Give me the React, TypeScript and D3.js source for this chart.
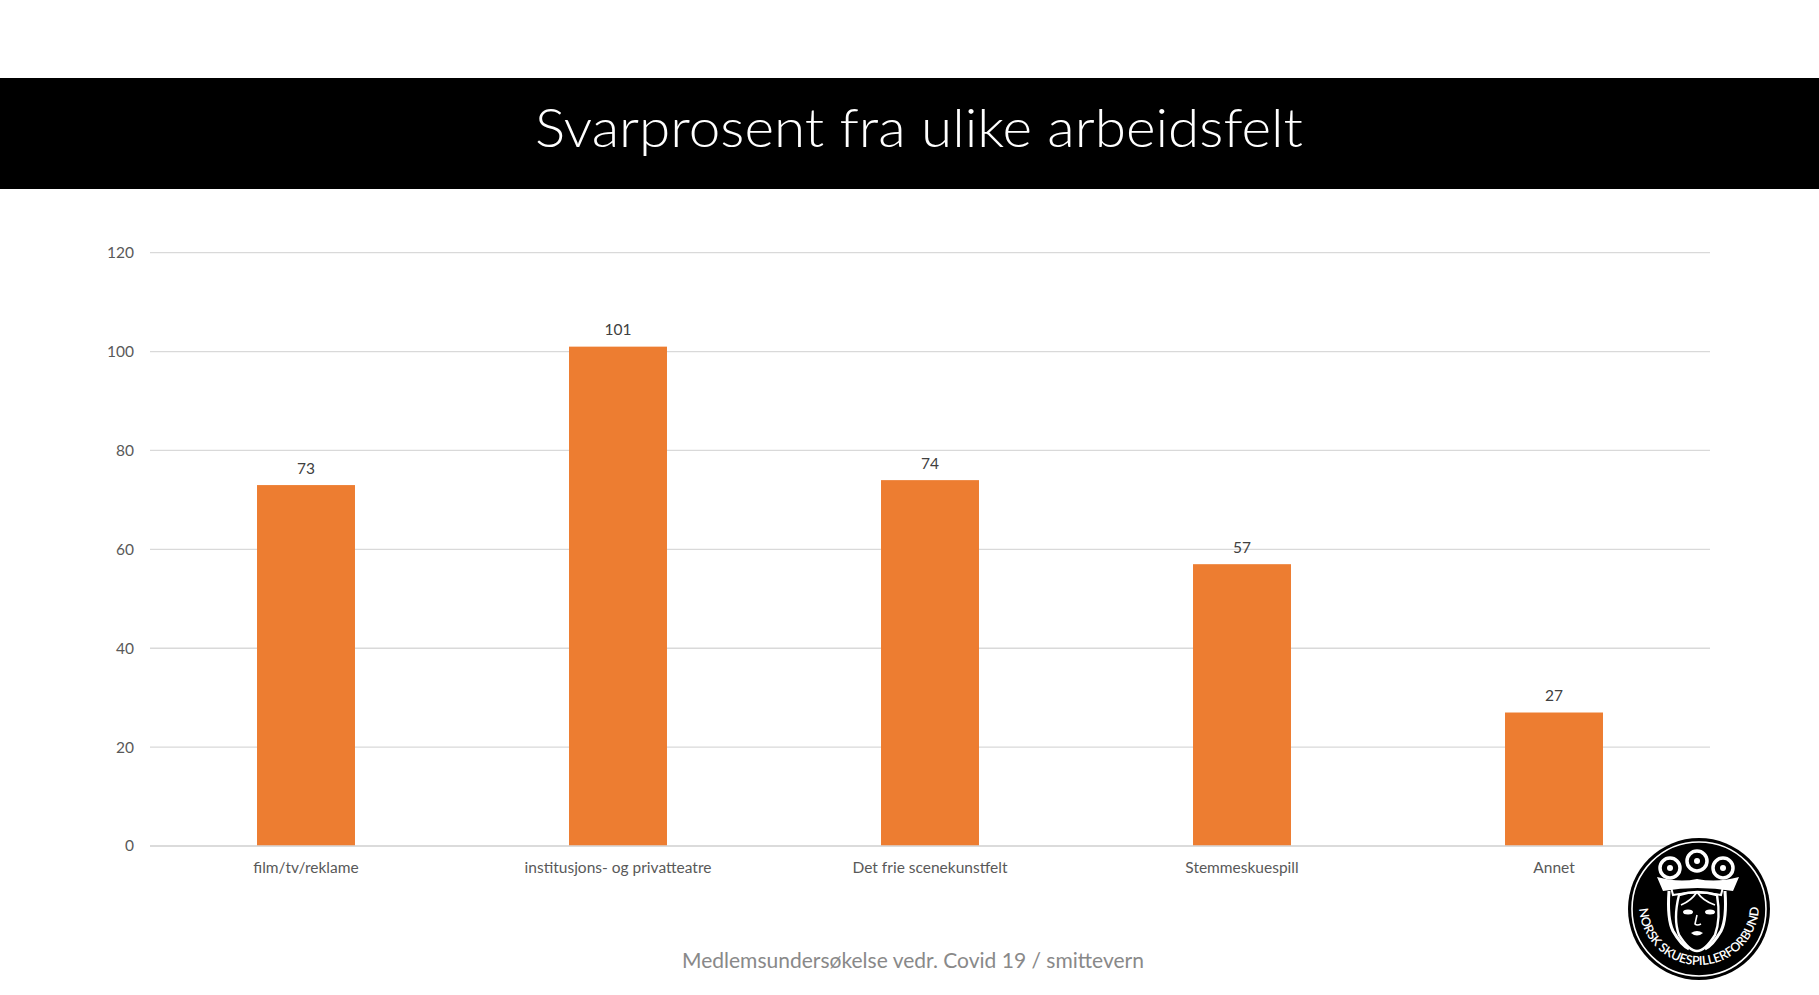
import { useRef, useEffect } from 'react';
import * as d3 from 'd3';

const categories = [
  'film/tv/reklame',
  'institusjons- og privatteatre',
  'Det frie scenekunstfelt',
  'Stemmeskuespill',
  'Annet',
];
const responses = [73, 101, 74, 57, 27];
const yTicks = [0, 20, 40, 60, 80, 100, 120];

const WIDTH = 1819;
const HEIGHT = 995;
const ORANGE = '#ED7D31';
const FONT = 'Lato, "Open Sans", sans-serif';

export default function App() {
  const svgRef = useRef<SVGSVGElement>(null);

  useEffect(() => {
    if (!svgRef.current) return;
    const svg = d3.select(svgRef.current);
    svg.selectAll('*').remove();

    svg.append('rect').attr('width', WIDTH).attr('height', HEIGHT).attr('fill', '#fff');

    // Title band
    svg.append('rect')
      .attr('x', 0).attr('y', 78)
      .attr('width', WIDTH).attr('height', 111)
      .attr('fill', '#000');

    svg.append('text')
      .attr('x', 919).attr('y', 147)
      .attr('text-anchor', 'middle')
      .attr('font-family', FONT)
      .attr('font-weight', 300)
      .attr('font-size', 54)
      .attr('textLength', 768)
      .attr('lengthAdjust', 'spacingAndGlyphs')
      .attr('fill', '#fff')
      .text('Svarprosent fra ulike arbeidsfelt');

    const x = d3.scaleBand<string>()
      .domain(categories)
      .range([150, 1710])
      .paddingInner(0.686)
      .paddingOuter(0.343);

    const y = d3.scaleLinear().domain([0, 120]).range([846, 252.7]);

    // Gridlines
    svg.append('g')
      .selectAll('line')
      .data(yTicks)
      .join('line')
      .attr('x1', 150).attr('x2', 1710)
      .attr('y1', (d) => y(d)).attr('y2', (d) => y(d))
      .attr('stroke', '#d9d9d9')
      .attr('stroke-width', 1.3);

    // Y tick labels
    svg.append('g')
      .selectAll('text')
      .data(yTicks)
      .join('text')
      .attr('x', 134)
      .attr('y', (d) => y(d))
      .attr('dy', '0.35em')
      .attr('text-anchor', 'end')
      .attr('font-family', FONT)
      .attr('font-size', 15.5)
      .attr('fill', '#595959')
      .text((d) => d);

    // Bars
    const data = categories.map((c, i) => ({ c, v: responses[i] }));

    svg.append('g')
      .selectAll('rect')
      .data(data)
      .join('rect')
      .attr('x', (d) => x(d.c)!)
      .attr('y', (d) => y(d.v))
      .attr('width', x.bandwidth())
      .attr('height', (d) => y(0) - y(d.v))
      .attr('fill', ORANGE);

    // redraw baseline over bars
    svg.append('line')
      .attr('x1', 150).attr('x2', 1710)
      .attr('y1', y(0)).attr('y2', y(0))
      .attr('stroke', '#d9d9d9')
      .attr('stroke-width', 1.3);

    // Value labels
    svg.append('g')
      .selectAll('text')
      .data(data)
      .join('text')
      .attr('x', (d) => x(d.c)! + x.bandwidth() / 2)
      .attr('y', (d) => y(d.v) - 17)
      .attr('dy', '0.35em')
      .attr('text-anchor', 'middle')
      .attr('font-family', FONT)
      .attr('font-size', 15.5)
      .attr('fill', '#404040')
      .text((d) => d.v);

    // Category labels
    svg.append('g')
      .selectAll('text')
      .data(categories)
      .join('text')
      .attr('x', (d) => x(d)! + x.bandwidth() / 2)
      .attr('y', 868)
      .attr('dy', '0.35em')
      .attr('text-anchor', 'middle')
      .attr('font-family', FONT)
      .attr('font-size', 15.5)
      .attr('fill', '#595959')
      .text((d) => d);

    // Footer
    svg.append('text')
      .attr('x', 913).attr('y', 968)
      .attr('text-anchor', 'middle')
      .attr('font-family', FONT)
      .attr('font-size', 22)
      .attr('textLength', 462)
      .attr('lengthAdjust', 'spacingAndGlyphs')
      .attr('fill', '#898989')
      .text('Medlemsundersøkelse vedr. Covid 19 / smittevern');

    // Logo (simplified emblem)
    const logo = svg.append('g').attr('transform', 'translate(1699, 909)');
    logo.append('circle').attr('r', 71).attr('fill', '#000');
    logo.append('circle').attr('r', 67).attr('fill', 'none')
      .attr('stroke', '#fff').attr('stroke-width', 1.6);

    // crown jewels
    const jewels = [[-29, -41], [-2, -48], [24, -41]];
    jewels.forEach(([jx, jy]) => {
      logo.append('circle').attr('cx', jx).attr('cy', jy).attr('r', 10)
        .attr('fill', '#000').attr('stroke', '#fff').attr('stroke-width', 3.5);
      logo.append('circle').attr('cx', jx).attr('cy', jy).attr('r', 3)
        .attr('fill', '#fff');
    });

    // crown band
    logo.append('path')
      .attr('d', 'M-42,-32 Q-20,-26 -2,-30 Q18,-26 40,-32 L34,-18 Q-2,-24 -36,-18 Z')
      .attr('fill', '#fff');
    logo.append('path')
      .attr('d', 'M-28,-22 L-26,-14 Q-2,-19 22,-14 L24,-22')
      .attr('fill', 'none').attr('stroke', '#fff').attr('stroke-width', 2);

    // veil
    logo.append('path')
      .attr('d', 'M-30,-18 Q-32,10 -26,22 Q-18,36 -10,40 M26,-18 Q28,10 22,22 Q14,36 6,40')
      .attr('fill', 'none').attr('stroke', '#fff').attr('stroke-width', 3);

    // face
    logo.append('path')
      .attr('d', 'M-20,-14 Q-2,-20 18,-14 Q22,10 16,26 Q6,42 -2,42 Q-10,42 -20,26 Q-26,10 -20,-14 Z')
      .attr('fill', 'none').attr('stroke', '#fff').attr('stroke-width', 2.4);
    logo.append('path')
      .attr('d', 'M-2,-17 Q-8,-8 -18,-4 M-2,-17 Q4,-8 16,-4')
      .attr('fill', 'none').attr('stroke', '#fff').attr('stroke-width', 1.8);
    // eyes
    [[-11, 3], [11, 3]].forEach(([ex, ey]) => {
      logo.append('ellipse').attr('cx', ex).attr('cy', ey).attr('rx', 5).attr('ry', 2.5)
        .attr('fill', '#fff');
    });
    // nose and mouth
    logo.append('path')
      .attr('d', 'M-2,6 L-4,15 Q-2,17 2,15')
      .attr('fill', 'none').attr('stroke', '#fff').attr('stroke-width', 1.6);
    logo.append('path')
      .attr('d', 'M-8,24 Q-2,20 4,24 Q-2,29 -8,24 Z')
      .attr('fill', '#fff');

    // ring text
    logo.append('path')
      .attr('id', 'logo-arc')
      .attr('d', 'M-60,-4 A60,60 0 0 0 60,-4')
      .attr('fill', 'none');
    logo.append('text')
      .attr('font-family', FONT)
      .attr('font-size', 12.5)
      .attr('font-weight', 600)
      .attr('fill', '#fff')
      .append('textPath')
      .attr('href', '#logo-arc')
      .attr('startOffset', '2%')
      .attr('textLength', 182)
      .attr('lengthAdjust', 'spacing')
      .text('NORSK SKUESPILLERFORBUND');
  }, []);

  return (
    <svg
      ref={svgRef}
      width={WIDTH}
      height={HEIGHT}
      style={{ position: 'absolute', left: 0, top: 0, display: 'block' }}
    />
  );
}
